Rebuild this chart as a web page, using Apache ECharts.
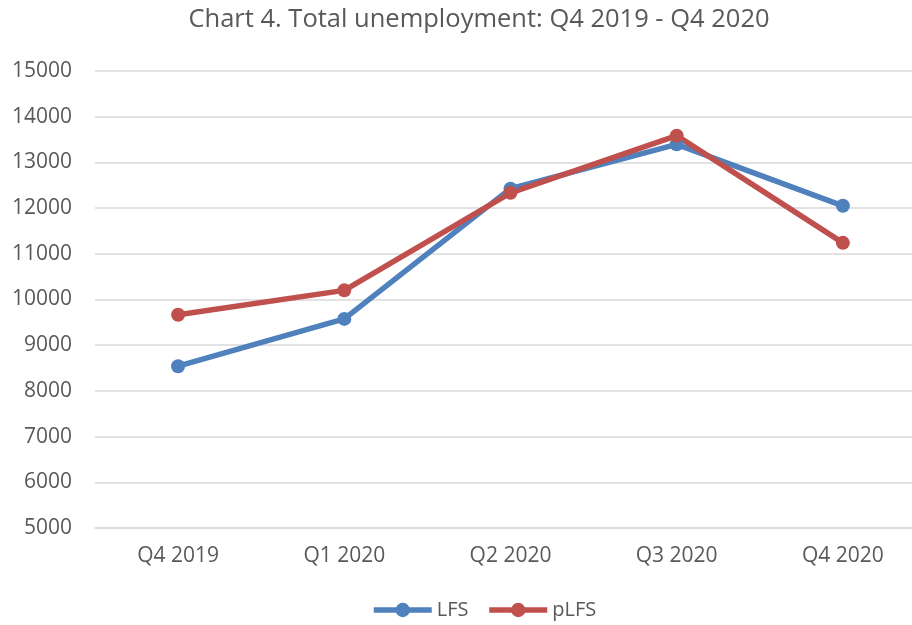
<!DOCTYPE html>
<html>
<head>
<meta charset="utf-8">
<script src="https://cdn.jsdelivr.net/npm/echarts@6/dist/echarts.min.js"></script>
<style>
  html, body { margin: 0; padding: 0; background: #fff; }
  #main { width: 912px; height: 625px; }
</style>
</head>
<body>
<div id="main"></div>
<script>
const quarters = ["Q4 2019", "Q1 2020", "Q2 2020", "Q3 2020", "Q4 2020"];
const lfs = [8540, 9575, 12425, 13395, 12050];
const plfs = [9665, 10200, 12335, 13585, 11240];

const font = "'Open Sans', sans-serif";
const textColor = "#595959";

const chart = echarts.init(document.getElementById("main"));

chart.setOption({
  backgroundColor: "#fff",
  animation: false,
  title: {
    text: "Chart 4. Total unemployment: Q4 2019 - Q4 2020",
    left: 474,
    textAlign: "center",
    top: 2,
    textStyle: { color: textColor, fontFamily: font, fontSize: 25.5, fontWeight: "normal" },
  },
  legend: {
    bottom: 0,
    left: 366,
    itemWidth: 58,
    itemHeight: 18,
    itemGap: 18,
    textStyle: { color: textColor, fontFamily: font, fontSize: 20 },
    data: [
      { name: "LFS", lineStyle: { width: 5.5 } },
      { name: "pLFS", lineStyle: { width: 5.5 } },
    ],
  },
  grid: { left: 95, top: 71, width: 831, height: 457, outerBoundsMode: "none" },
  xAxis: {
    type: "category",
    data: quarters,
    boundaryGap: true,
    axisLine: { lineStyle: { color: "#D9D9D9", width: 1.5 } },
    axisTick: { show: false },
    axisLabel: { color: textColor, fontFamily: font, fontSize: 21, margin: 18 },
  },
  yAxis: {
    type: "value",
    min: 5000,
    max: 15000,
    interval: 1000,
    axisLine: { show: false },
    axisTick: { show: false },
    axisLabel: {
      color: textColor,
      fontFamily: font,
      fontSize: 21,
      margin: 23,
      formatter: (v) => String(v),
    },
    splitLine: { lineStyle: { color: "#D9D9D9", width: 1.5 } },
  },
  series: [
    {
      name: "LFS",
      type: "line",
      data: lfs,
      symbol: "circle",
      symbolSize: 14,
      itemStyle: { color: "#4F81BD" },
      lineStyle: { color: "#4F81BD", width: 5.5 },
    },
    {
      name: "pLFS",
      type: "line",
      data: plfs,
      symbol: "circle",
      symbolSize: 14,
      itemStyle: { color: "#C0504D" },
      lineStyle: { color: "#C0504D", width: 5.5 },
    },
  ],
});
</script>
</body>
</html>
